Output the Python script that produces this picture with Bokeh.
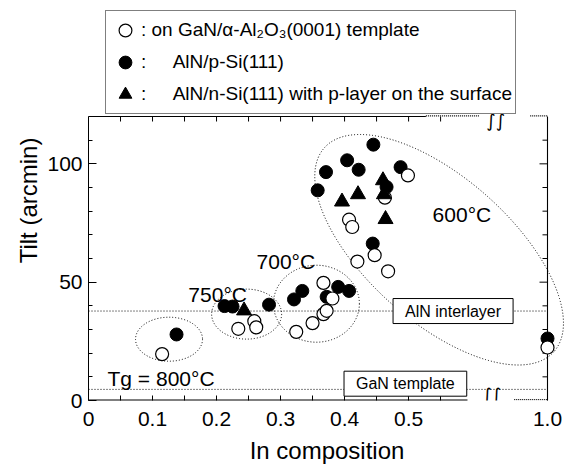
from bokeh.plotting import figure
from bokeh.models import Range1d, FixedTicker, Label, Legend, LegendItem
from bokeh.embed import file_html
from bokeh.resources import INLINE
from bokeh.core.properties import value

FONT = "Liberation Sans"

# ---------------- data (In composition, Tilt in arcmin) ----------------
open_x = [0.115, 0.234, 0.259, 0.262, 0.3245, 0.350, 0.367, 0.372, 0.381, 0.367,
          0.420, 0.447, 0.468, 0.407, 0.412, 0.463, 0.499, 1.0]
open_y = [19.6, 30.3, 33.5, 30.9, 29.0, 32.7, 36.5, 37.9, 43.1, 49.7,
          58.7, 61.4, 54.6, 76.4, 73.3, 85.7, 95.1, 22.4]

filled_x = [0.1375, 0.2125, 0.225, 0.282, 0.321, 0.334, 0.372, 0.390, 0.407,
            0.358, 0.371, 0.404, 0.422, 0.445, 0.4875, 0.4656, 0.444, 1.0]
filled_y = [27.9, 39.9, 39.7, 40.5, 42.7, 46.3, 43.8, 48.0, 46.3,
            88.8, 96.5, 101.5, 97.5, 108.1, 98.6, 90.2, 66.3, 26.2]

tri_x = [0.243, 0.396, 0.421, 0.460, 0.4615, 0.464]
tri_y = [38.0, 84.0, 87.1, 93.0, 87.1, 76.6]

x_tick_values = [0, 0.1, 0.2, 0.3, 0.4, 0.5, 1.0]
x_tick_labels = ["0", "0.1", "0.2", "0.3", "0.4", "0.5", "1.0"]
x_minor_values = [0.05, 0.15, 0.25, 0.35, 0.45, 0.55]
y_tick_values = [0, 50, 100]
y_tick_labels = ["0", "50", "100"]
y_minor_values = [10, 20, 30, 40, 60, 70, 80, 90, 110, 120]
Y_MAX = 120

ref_levels = [37.8, 4.7]
ref_names = ["AlN interlayer", "GaN template"]
ref_label_x = [0.5695, 0.495]
ref_label_y = [37.8, 7.1]

temp_names = ["600°C", "700°C", "750°C", "Tg = 800°C"]
temp_x = [0.5375, 0.2625, 0.156, 0.0297]
temp_y = [78.7, 58.9, 44.9, 9.1]

ell_cx = [0.1258, 0.247, 0.356, 0.5477]
ell_cy = [25.9, 36.5, 40.9, 63.7]
ell_w = [67, 70, 86, 307]
ell_h = [44, 50, 77, 144]
ell_angle = [0, 0, 0, -41.6]

NB = "\u00a0"
legend_texts = [": on GaN/\u03b1-Al\u2082O\u2083(0001) template",
                ":" + NB * 5 + "AlN/p-Si(111)",
                ":" + NB * 5 + "AlN/n-Si(111) with p-layer on the surface"]

# ---------------- broken x axis ----------------
X_BREAK = 0.6
X_END = 0.717   # display position of In = 1.0


def disp(x):
    if x <= X_BREAK:
        return x
    return X_BREAK + (x - X_BREAK) * (X_END - X_BREAK) / (1.0 - X_BREAK)


# ---------------- figure geometry ----------------
# The frame covers the key box above the data area and a little room on the
# right, so the points at In = 1.0 and the 600°C outline are not cut.
W, H = 565, 470
PLOT_LEFT_PX, PLOT_RIGHT_PX = 88, 547
PLOT_TOP_PX, PLOT_BOTTOM_PX = 116, 400
PX_PER_X = (PLOT_RIGHT_PX - PLOT_LEFT_PX) / X_END
PX_PER_Y = (PLOT_BOTTOM_PX - PLOT_TOP_PX) / Y_MAX
X_RIGHT = X_END + (W - PLOT_RIGHT_PX) / PX_PER_X
Y_TOP = Y_MAX + PLOT_TOP_PX / PX_PER_Y

p = figure(width=W, height=H, x_range=Range1d(0, X_RIGHT), y_range=Range1d(0, Y_TOP),
           output_backend="svg", toolbar_location=None, title=None,
           min_border_left=PLOT_LEFT_PX, min_border_right=0, min_border_top=0,
           min_border_bottom=H - PLOT_BOTTOM_PX,
           background_fill_color="white", border_fill_color="white", outline_line_color=None)
p.grid.visible = False

xt = FixedTicker(ticks=[disp(v) for v in x_tick_values], minor_ticks=x_minor_values)
yt = FixedTicker(ticks=y_tick_values, minor_ticks=y_minor_values)

xa = p.xaxis[0]
xa.ticker = xt
xa.bounds = (0, X_END + 1e-6)
xa.major_label_overrides = {disp(v): s for v, s in zip(x_tick_values, x_tick_labels)}
xa.axis_line_color = None
xa.axis_label = "In composition"

ya = p.yaxis[0]
ya.ticker = yt
ya.bounds = (0, Y_MAX)
ya.major_label_overrides = {v: s for v, s in zip(y_tick_values, y_tick_labels)}
ya.axis_label = "Tilt (arcmin)"

xa.major_tick_in = 5
xa.major_tick_out = 0
xa.minor_tick_in = 5
xa.minor_tick_out = 0
ya.major_tick_in = 8
ya.major_tick_out = 0
ya.minor_tick_in = 4
ya.minor_tick_out = 0
for ax in (xa, ya):
    ax.major_tick_line_color = "black"
    ax.minor_tick_line_color = "black"
    ax.major_label_text_font = FONT
    ax.major_label_text_color = "black"
    ax.axis_label_text_font = FONT
    ax.axis_label_text_font_style = "normal"
    ax.axis_label_text_color = "black"
    ax.major_label_text_font_size = "21px"
    ax.axis_label_text_font_size = "24px"
ya.axis_line_color = "black"
xa.major_label_standoff = 11
ya.major_label_standoff = 6
xa.axis_label_standoff = 8
ya.axis_label_standoff = 2

# ---------------- frame edges (bottom, top, right) with the axis break ----------------
p.segment(x0=[0, 0.665], y0=[0, 0.4], x1=[0.592, X_END], y1=[0, 0.4],
          line_color="black", line_width=[2, 1.2], line_dash=["solid", "1 1"])
p.segment(x0=[0, 0.527, 0.69], y0=[Y_MAX, Y_MAX + 0.3, Y_MAX + 0.3],
          x1=[0.527, 0.61, X_END], y1=[Y_MAX, Y_MAX + 0.3, Y_MAX + 0.3],
          line_color="black", line_width=[1.1, 1.2, 1.2], line_dash=["solid", "1 1", "1 1"])
p.segment(x0=[X_END], y0=[0], x1=[X_END], y1=[Y_MAX], line_color="black", line_width=1.1)

top_ticks = sorted(x_minor_values + x_tick_values[1:-1])
p.segment(x0=top_ticks, y0=[Y_MAX] * len(top_ticks), x1=top_ticks,
          y1=[Y_MAX - 5 / PX_PER_Y] * len(top_ticks), line_color="black", line_width=1)
right_ticks = sorted(y_minor_values[:-1] + y_tick_values[1:])
right_len = [(8 if v in y_tick_values else 5) / PX_PER_X for v in right_ticks]
p.segment(x0=[X_END] * len(right_ticks), y0=right_ticks,
          x1=[X_END - d for d in right_len], y1=right_ticks,
          line_color="black", line_width=1)

for bx, by in ((0.63, 2.6), (0.636, 118.3)):
    p.add_layout(Label(x=bx, y=by, text="\u222b\u222b", text_font="DejaVu Sans",
                       text_font_size="18px", text_align="center",
                       text_baseline="middle", text_color="black"))

# ---------------- reference levels ----------------
p.segment(x0=[0] * len(ref_levels), y0=ref_levels, x1=[X_END] * len(ref_levels),
          y1=ref_levels, line_color="black", line_dash="1 2", line_width=1)
for nm, lx, ly in zip(ref_names, ref_label_x, ref_label_y):
    p.add_layout(Label(x=lx, y=ly, text=nm, text_font=FONT, text_font_size="16px",
                       text_align="center", text_baseline="middle", text_color="black",
                       border_line_color="black", border_line_width=1,
                       background_fill_color="white",
                       padding=dict(left=12, right=12, top=4, bottom=4)))

# ---------------- growth temperature groups ----------------
p.ellipse(x=ell_cx, y=ell_cy, width=ell_w, height=ell_h, angle=ell_angle,
          angle_units="deg", width_units="screen", height_units="screen",
          fill_color=None, line_color="black", line_dash="1 2", line_width=1)
p.text(x=temp_x, y=temp_y, text=temp_names, text_font=value(FONT),
       text_font_size="21px", text_baseline="alphabetic", text_align="left",
       text_color="black")

# ---------------- data markers ----------------
r_filled = p.scatter([disp(v) for v in filled_x], filled_y, marker="circle", size=13,
                     fill_color="black", line_color="black")
r_open = p.scatter([disp(v) for v in open_x], open_y, marker="circle", size=13,
                   fill_color="white", line_color="black", line_width=1.2)
r_tri = p.scatter([disp(v) for v in tri_x], tri_y, marker="triangle", size=15,
                  fill_color="black", line_color="black")

# ---------------- key ----------------
LEG_PAD = 3
LEG_ROW = 32
LEG_H = 2 * LEG_PAD + 3 * LEG_ROW
LEG_TOP_PX = 12
LEG_LEFT_PX = 105
legend = Legend(items=[LegendItem(label=legend_texts[0], renderers=[r_open]),
                       LegendItem(label=legend_texts[1], renderers=[r_filled]),
                       LegendItem(label=legend_texts[2], renderers=[r_tri])],
                location=(LEG_LEFT_PX - PLOT_LEFT_PX, PLOT_BOTTOM_PX - LEG_TOP_PX - LEG_H),
                orientation="vertical",
                border_line_color="black", border_line_width=1.3,
                background_fill_color="white", background_fill_alpha=1.0,
                padding=LEG_PAD, spacing=0, margin=0,
                glyph_width=LEG_ROW, glyph_height=LEG_ROW, label_height=LEG_ROW,
                label_standoff=0,
                label_text_font=FONT, label_text_font_size="19px",
                label_text_color="black")
p.add_layout(legend, "center")

open("out.html", "w").write(file_html(p, INLINE))
